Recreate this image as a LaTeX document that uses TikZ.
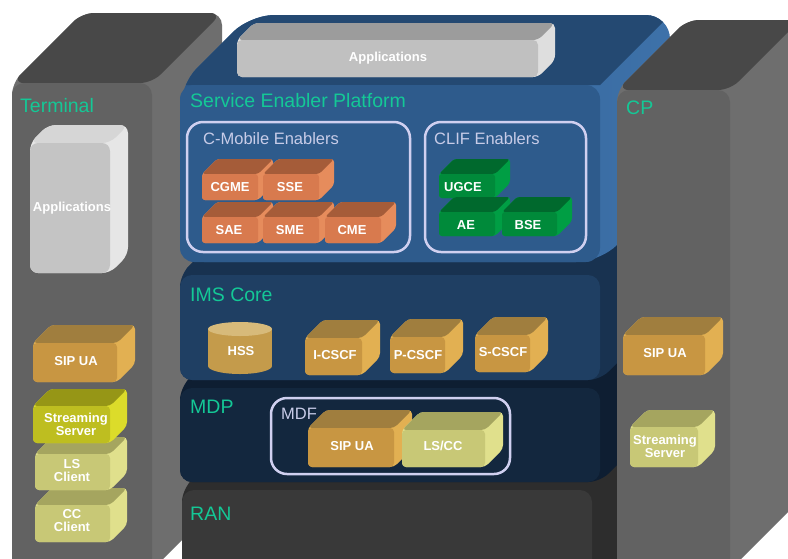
\documentclass[tikz,border=0pt]{standalone}
\usepackage{fontspec}
\setmainfont{Liberation Sans}
\definecolor{lbl}{RGB}{20,200,150}
\definecolor{lav}{RGB}{208,208,240}
\definecolor{lavtxt}{RGB}{200,204,232}
% big blocks
\definecolor{grF}{RGB}{98,98,98}\definecolor{grT}{RGB}{72,72,72}\definecolor{grS}{RGB}{110,110,110}
\definecolor{sepF}{RGB}{46,91,140}\definecolor{sepT}{RGB}{36,73,114}\definecolor{sepS}{RGB}{44,88,138}\definecolor{sepL}{RGB}{62,114,170}
\definecolor{imsF}{RGB}{31,63,99}\definecolor{imsT}{RGB}{24,50,80}
\definecolor{mdpF}{RGB}{19,39,62}\definecolor{mdpT}{RGB}{14,30,50}
\definecolor{ranF}{RGB}{57,57,57}\definecolor{ranT}{RGB}{45,45,45}
% small cubes
\definecolor{orF}{RGB}{216,122,78}\definecolor{orT}{RGB}{165,92,57}\definecolor{orS}{RGB}{230,140,92}
\definecolor{gnF}{RGB}{0,138,58}\definecolor{gnT}{RGB}{0,105,45}\definecolor{gnS}{RGB}{0,158,68}
\definecolor{goF}{RGB}{200,150,66}\definecolor{goT}{RGB}{160,126,62}\definecolor{goS}{RGB}{226,176,82}
\definecolor{ylF}{RGB}{190,190,32}\definecolor{ylT}{RGB}{150,150,22}\definecolor{ylS}{RGB}{220,220,42}
\definecolor{plF}{RGB}{200,200,118}\definecolor{plT}{RGB}{165,165,95}\definecolor{plS}{RGB}{224,224,140}
\definecolor{apF}{RGB}{192,192,192}\definecolor{apT}{RGB}{156,156,156}\definecolor{apS}{RGB}{222,222,222}
\definecolor{taF}{RGB}{196,196,196}\definecolor{taT}{RGB}{214,214,214}\definecolor{taS}{RGB}{230,230,230}
\definecolor{hsB}{RGB}{196,155,75}\definecolor{hsT}{RGB}{215,186,122}
% #1 x1, #2 y1, #3 x2, #4 y2, #5 depth, #6 front, #7 top, #8 side, #9 radius
\newcommand\blk[9]{%
  \fill[#8, rounded corners=#9pt] (#1,#2+#5) -- (#1+#5,#2) -- (#3,#2) -- (#3,#4-#5) -- (#3-#5,#4) -- (#1,#4) -- cycle;
  \fill[#7, rounded corners=#9pt] (#1,#2+#5) -- (#1+#5,#2) -- (#3,#2) -- (#3-#5,#2+#5) -- cycle;
  \fill[#6, rounded corners=#9pt] (#1,#2+#5) rectangle (#3-#5,#4);
}
\begin{document}
\begin{tikzpicture}[x=1pt,y=-1pt,
  lab/.style={anchor=west,inner sep=0pt,text=lbl,font=\fontsize{19.5}{21}\selectfont},
  sub/.style={anchor=west,inner sep=0pt,text=lavtxt,font=\fontsize{16.5}{18}\selectfont},
  ctx/.style={inner sep=0pt,text=white,font=\bfseries\fontsize{13}{13}\selectfont,align=center},
  grp/.style={draw=lav,line width=2.5pt,rounded corners=16pt}]
\useasboundingbox (0,0) rectangle (788,558);
\clip (0,0) rectangle (788,558);
\fill[white] (0,0) rectangle (788,558);

% Terminal column
\blk{12}{13}{222}{570}{70}{grF}{grT}{grS}{12}
% central stack, bottom to top
\blk{182}{420}{662}{628}{70}{ranF}{ranT}{ranT}{12}
\blk{180}{318}{670}{482}{70}{mdpF}{mdpT}{mdpT}{12}
\blk{180}{205}{670}{380}{70}{imsF}{imsT}{imsT}{12}
% Service Enabler Platform block (side face shaded)
\begin{scope}
\clip[rounded corners=24pt] (180,85) -- (250,15) -- (670,15) -- (670,192) -- (600,262) -- (180,262) -- cycle;
\shade[left color=sepS, right color=sepL] (170,5) rectangle (680,270);
\fill[sepT] (170,85) -- (250,5) -- (680,5) -- (600,85) -- cycle;
\end{scope}
\fill[sepF, rounded corners=14pt] (180,85) rectangle (600,262);
% CP column
\blk{617}{20}{800}{570}{70}{grF}{grT}{grS}{12}

% layer labels
\node[lab] (lterm) at (20,106) {Terminal};
\node[lab] (lsep) at (190,101) {Service Enabler Platform};
\node[lab] (lcp) at (626,108) {CP};
\node[lab] (lims) at (190,295) {IMS Core};
\node[lab] (lmdp) at (190,407) {MDP};
\node[lab] (lran) at (190,514) {RAN};

% Applications bar
\blk{237}{23}{555}{77}{17}{apF}{apT}{apS}{5}
\node[ctx] (apps) at (388,58) {Applications};

% group frames
\draw[grp] (187,122) rectangle (410,252);
\node[sub] (gcm) at (203,139) {C-Mobile Enablers};
\draw[grp] (425,122) rectangle (586,252);
\node[sub] (gcl) at (434,139) {CLIF Enablers};
\draw[grp] (271,398) rectangle (510,474);
\node[sub] (gmdf) at (281,414) {MDF};

% C-Mobile enablers
\blk{202}{159}{273}{200}{15}{orF}{orT}{orS}{3}
\blk{263}{159}{334}{200}{15}{orF}{orT}{orS}{3}
\blk{202}{202}{273}{243}{15}{orF}{orT}{orS}{3}
\blk{263}{202}{334}{243}{15}{orF}{orT}{orS}{3}
\blk{325}{202}{396}{243}{15}{orF}{orT}{orS}{3}
\node[ctx] (cgme) at (230,187) {CGME};
\node[ctx] (sse) at (290,187) {SSE};
\node[ctx] (sae) at (229,230) {SAE};
\node[ctx] (sme) at (290,230) {SME};
\node[ctx] (cme) at (352,230) {CME};

% CLIF enablers
\blk{439}{159}{510}{198}{15}{gnF}{gnT}{gnS}{3}
\blk{439}{197}{510}{236}{15}{gnF}{gnT}{gnS}{3}
\blk{502}{197}{572}{236}{15}{gnF}{gnT}{gnS}{3}
\node[ctx] (ugce) at (463,187) {UGCE};
\node[ctx] (ae) at (466,225) {AE};
\node[ctx] (bse) at (528,225) {BSE};

% IMS core
\fill[hsB] (208,329) rectangle (272,366);
\fill[hsB] (240,366) ellipse [x radius=32, y radius=8];
\fill[hsT] (240,329) ellipse [x radius=32, y radius=7];
\node[ctx] (hss) at (241,351) {HSS};
\blk{305}{320}{380}{375}{18}{goF}{goT}{goS}{4}
\blk{390}{319}{463}{373}{18}{goF}{goT}{goS}{4}
\blk{475}{317}{548}{372}{18}{goF}{goT}{goS}{4}
\node[ctx] (icscf) at (335,355) {I-CSCF};
\node[ctx] (pcscf) at (418,355) {P-CSCF};
\node[ctx] (scscf) at (503,352) {S-CSCF};

% MDF
\blk{308}{410}{412}{467}{18}{goF}{goT}{goS}{4}
\blk{402}{412}{503}{467}{18}{plF}{plT}{plS}{4}
\node[ctx] (msip) at (352,446) {SIP UA};
\node[ctx] (lscc) at (443,446) {LS/CC};

% Terminal contents
\blk{30}{125}{128}{273}{18}{taF}{taT}{taS}{8}
\node[ctx] (tapps) at (72,208) {Applications};
\blk{35}{488}{127}{542}{17}{plF}{plT}{plS}{4}
\blk{35}{437}{127}{490}{17}{plF}{plT}{plS}{4}
\blk{33}{389}{127}{443}{17}{ylF}{ylT}{ylS}{4}
\blk{33}{325}{135}{382}{18}{goF}{goT}{goS}{4}
\node[ctx] (tsip) at (76,361) {SIP UA};
\node[ctx] (tstr) at (76,424) {Streaming\\Server};
\node[ctx] (tls) at (72,471) {LS\\Client};
\node[ctx] (tcc) at (72,521) {CC\\Client};

% CP contents
\blk{623}{317}{723}{375}{18}{goF}{goT}{goS}{4}
\blk{630}{410}{715}{467}{17}{plF}{plT}{plS}{4}
\node[ctx] (csip) at (665,353) {SIP UA};
\node[ctx] (cstr) at (665,446) {Streaming\\Server};
\end{tikzpicture}
\end{document}
